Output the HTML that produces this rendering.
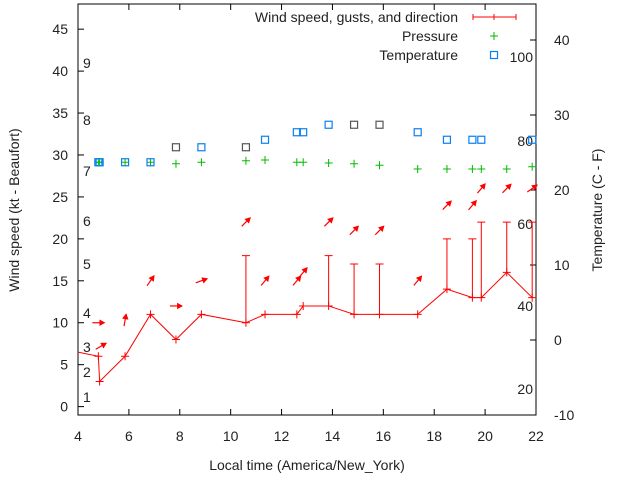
<!DOCTYPE html>
<html><head><meta charset="utf-8"><style>
body{margin:0;background:#fff}
svg{display:block;font-family:"Liberation Sans",sans-serif}
</style></head><body>
<svg id="c" width="640" height="480" viewBox="0 0 640 480" xmlns="http://www.w3.org/2000/svg"></svg>
<script>
const times=[4.8,4.85,5.85,6.85,7.85,8.85,10.6,11.35,12.6,12.85,13.85,14.85,15.85,17.35,18.5,19.5,19.85,20.85,21.85];
const windSpeed=[6,3,6,11,8,11,10,11,11,12,12,11,11,11,14,13,13,16,13];
const windGust=[null,null,null,null,null,null,18,null,null,null,18,17,17,null,20,20,22,22,22];
const arrowTimes=[4.8,4.9,5.85,6.85,7.85,8.85,10.6,11.35,12.6,12.85,13.85,14.85,15.85,17.35,18.5,19.5,19.85,20.85,21.85];
const arrowLevel=[10,7.2,10.3,15,12,15,22,15,15,16,22,21,21,15,24,24,26,26,26];
const arrowDir=[0,-30,-80,-55,0,-20,-45,-50,-50,-50,-45,-45,-45,-50,-45,-50,-50,-45,-35];
const pressure=[23.7,23.7,23.7,23.7,23.5,23.7,23.9,24,23.7,23.7,23.6,23.5,23.3,22.8,22.8,22.8,22.8,22.8,23.1];
const tempTimes=[4.8,4.85,5.85,6.85,7.85,8.85,10.6,11.35,12.6,12.85,13.85,14.85,15.85,17.35,18.5,19.5,19.85,21.85];
const temperature=[23.7,23.7,23.7,23.7,25.7,25.7,25.7,26.7,27.7,27.7,28.7,28.7,28.7,27.7,26.7,26.7,26.7,26.7];
const grayTemps=[4,6,11,12];
const xTicks=[4,6,8,10,12,14,16,18,20,22];
const yTicks=[0,5,10,15,20,25,30,35,40,45];
const y2Ticks=[-10,0,10,20,30,40];
const beaufort=[[1,1],[2,2],[3,3],[4,4],[5,5],[6,6],[7,7],[8,8],[9,9]];
const beaufortY=[397,372,347,313,264,221,171,120,63];
const fLabels=["20","40","60","80","100"];
const fLabelY=[389,306,224,141,57];

const L=78,R=536,T=4,B=415;
const X=t=>L+(t-4)/18*(R-L);
const Y=v=>B-(v+1)/49*(B-T);
const Y2=v=>B-(v+10)/54.8*(B-T);
const svg=document.getElementById('c');
const NS='http://www.w3.org/2000/svg';
function mk(tag,attrs,name,parent){const e=document.createElementNS(NS,tag);for(const k in attrs)e.setAttribute(k,attrs[k]);


(parent||svg).appendChild(e);return e;}
function txt(x,y,s,anchor,name,extra){const e=mk('text',Object.assign({x:x,y:y,'font-size':14,fill:'#222','text-anchor':anchor||'start'},extra||{}),name);e.textContent=s;return e;}

// frame
mk('rect',{x:L,y:T,width:R-L,height:B-T,fill:'none',stroke:'#000','stroke-width':1},'plot-frame');
xTicks.forEach(t=>{const x=X(t);
 mk('line',{x1:x,y1:B,x2:x,y2:B-6,stroke:'#000'},'x-tick');
 mk('line',{x1:x,y1:T,x2:x,y2:T+6,stroke:'#000'},'x-tick-top');
 txt(x,441,String(t),'middle','x-tick-label');});
yTicks.forEach(v=>{const y=Y(v);
 mk('line',{x1:L,y1:y,x2:L+6,y2:y,stroke:'#000'},'y-tick');
 txt(L-10,y+5,String(v),'end','y-tick-label');});
y2Ticks.forEach(v=>{const y=Y2(v);
 mk('line',{x1:R,y1:y,x2:R-6,y2:y,stroke:'#000'},'y2-tick');
 txt(R+18,y+5,String(v),'start','y2-tick-label');});
beaufort.forEach((b,i)=>txt(83,beaufortY[i]+5,String(b[1]),'start','beaufort-label'));
fLabels.forEach((s,i)=>txt(533,fLabelY[i]+5,s,'end','fahrenheit-label'));
txt(307,470,'Local time (America/New_York)','middle','x-axis-title');
txt(0,0,'Wind speed (kt - Beaufort)','middle','y-axis-title',{transform:'translate(19,210) rotate(-90)'});
txt(0,0,'Temperature (C - F)','middle','y2-axis-title',{transform:'translate(602,210) rotate(-90)'});

// wind line
let d='M'+L+','+Y(6.5)+' L'+times.map((t,i)=>X(t)+','+Y(windSpeed[i])).join(' L');
mk('path',{d:d,fill:'none',stroke:'#f00','stroke-width':1},'wind-speed-line');
times.forEach((t,i)=>{const x=X(t),y=Y(windSpeed[i]);
 mk('path',{d:`M${x-4},${y}h8M${x},${y-4}v8`,stroke:'#f00'},'wind-point');
 if(windGust[i]!=null){const g=Y(windGust[i]);
  mk('path',{d:`M${x},${y}V${g}M${x-4},${g}h8`,stroke:'#f00'},'wind-gust-bar');}});
arrowTimes.forEach((t,i)=>{const cx=X(t),cy=Y(arrowLevel[i]),a=arrowDir[i]*Math.PI/180,len=12;
 const dx=Math.cos(a)*len/2,dy=Math.sin(a)*len/2;
 const x1=cx-dx,y1=cy-dy,x2=cx+dx,y2=cy+dy;
 const h=5,w=0.5;
 const p1=[x2-h*Math.cos(a-w),y2-h*Math.sin(a-w)],p2=[x2-h*Math.cos(a+w),y2-h*Math.sin(a+w)];
 const g=mk('g',{},'wind-direction-arrow');
 mk('line',{x1:x1,y1:y1,x2:x2,y2:y2,stroke:'#f00','stroke-width':1.2},'arrow-shaft',g);
 mk('polygon',{points:`${x2},${y2} ${p1} ${p2}`,fill:'#f00',stroke:'#f00'},'arrow-head',g);});
// pressure
times.forEach((t,i)=>{const x=X(t),y=Y2(pressure[i]);
 mk('path',{d:`M${x-4},${y}h8M${x},${y-4}v8`,stroke:grayTemps.includes(i)&&false?'#444':'#0b0'},'pressure-point');});
// temperature
tempTimes.forEach((t,i)=>{const x=X(t),y=Y2(temperature[i]);
 mk('rect',{x:x-3.5,y:y-3.5,width:7,height:7,fill:'none',stroke:grayTemps.includes(i)?'#555':'#0a7ff0','stroke-width':1.2},'temperature-point');});
// legend
txt(458,22,'Wind speed, gusts, and direction','end','legend-wind-label');
mk('path',{d:'M473,17H516M473,14v6M516,14v6M494,14v6',stroke:'#f00'},'legend-wind-sample');
txt(458,41,'Pressure','end','legend-pressure-label');
mk('path',{d:'M490,36h8M494,32v8',stroke:'#0b0'},'legend-pressure-sample');
txt(458,60,'Temperature','end','legend-temperature-label');
mk('rect',{x:490.5,y:51.5,width:7,height:7,fill:'none',stroke:'#0a7ff0','stroke-width':1.2},'legend-temperature-sample');
</script>
</body></html>
